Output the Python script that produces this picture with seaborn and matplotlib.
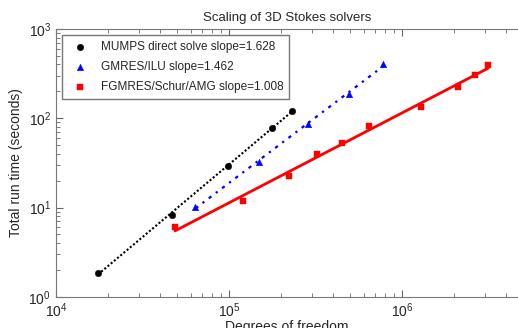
import numpy as np
import pandas as pd
import matplotlib
matplotlib.use('Agg')
import matplotlib.pyplot as plt
import seaborn as sns

# data (log-log axes)
mumps_dof = [1.75e4, 4.69e4, 9.87e4, 1.77e5, 2.31e5]
mumps_time = [1.86, 8.3, 29.3, 78, 121]

gmres_dof = [6.4e4, 1.49e5, 2.87e5, 4.94e5, 7.77e5]
gmres_time = [10.2, 32.5, 86.5, 188, 406]

fgmres_dof = [4.88e4, 1.21e5, 2.22e5, 3.23e5, 4.5e5, 6.44e5, 1.29e6, 2.11e6, 2.64e6, 3.14e6]
fgmres_time = [6.08, 11.9, 22.6, 39.9, 53, 82, 134, 225, 306, 396]

labels = ['MUMPS direct solve slope=1.628',
          'GMRES/ILU slope=1.462',
          'FGMRES/Schur/AMG slope=1.008']

sns.set_style('ticks')
plt.rcParams['font.family'] = ['Liberation Sans', 'DejaVu Sans']
plt.rcParams['mathtext.fontset'] = 'custom'
plt.rcParams['mathtext.rm'] = 'Liberation Sans'
plt.rcParams['xtick.direction'] = 'in'
plt.rcParams['ytick.direction'] = 'in'

fig = plt.figure(figsize=(5.18, 3.28), dpi=100)
ax = fig.add_axes([0.108, 0.095, 0.892, 0.817])

series = [
    (mumps_dof, mumps_time, labels[0], 'k', 'o', (0, (1, 1)), 1.5, 22),
    (gmres_dof, gmres_time, labels[1], 'b', '^', (0, (1.5, 2.5, 1, 2.5)), 1.6, 22),
    (fgmres_dof, fgmres_time, labels[2], 'r', 's', '-', 2.0, 25),
]

for dof, t, lab, col, mk, ls, lw, ms in series:
    df = pd.DataFrame({'dof': dof, 'time': t})
    # least squares fit in log space, drawn between first and last point
    p = np.polyfit(np.log10(df['dof']), np.log10(df['time']), 1)
    xs = np.array([df['dof'].min(), df['dof'].max()])
    ys = 10 ** np.polyval(p, np.log10(xs))
    ax.plot(xs, ys, color=col, linestyle=ls, linewidth=lw, zorder=2)
    sns.scatterplot(data=df, x='dof', y='time', ax=ax, color=col, marker=mk,
                    s=ms, edgecolor=col, linewidth=0.3, label=lab, zorder=3)

ax.set_xscale('log')
ax.set_yscale('log')
ax.set_xlim(1e4, 10 ** 6.67)
ax.set_ylim(1, 1e3)
ax.spines['right'].set_visible(False)
ax.tick_params(which='both', top=True, right=False, labelsize=10, color='#666666')
ax.tick_params(which='major', length=5)
ax.tick_params(which='minor', length=3)
for s in ax.spines.values():
    s.set_color('#777777')

ax.set_title('Scaling of 3D Stokes solvers', fontsize=9.5, pad=6)
ax.set_xlabel('Degrees of freedom', fontsize=10, labelpad=0)
ax.set_ylabel('Total run time (seconds)', fontsize=10)

leg = ax.legend(loc='upper left', fontsize=8.5, frameon=True, fancybox=False,
                handletextpad=0.8, borderpad=0.5, labelspacing=0.7)
leg.get_frame().set_edgecolor('#555555')
leg.get_frame().set_linewidth(1.0)

fig.savefig('out.png', dpi=100)
